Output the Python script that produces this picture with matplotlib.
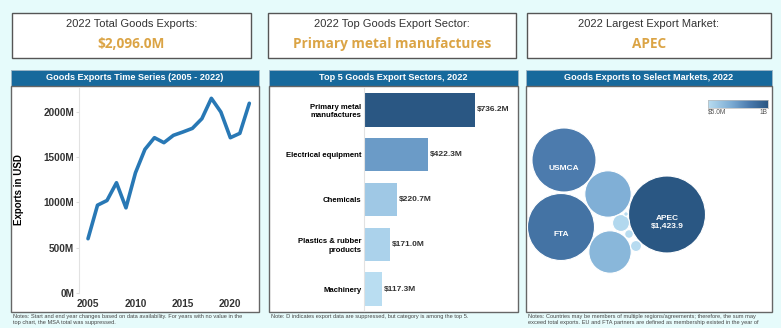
import numpy as np
import matplotlib.pyplot as plt
from matplotlib.patches import Rectangle, Circle
from matplotlib.colors import LinearSegmentedColormap, Normalize

# Goods exports, millions of USD
years = list(range(2005, 2023))
exports = [600, 970, 1022, 1218, 941, 1328, 1587, 1716, 1661, 1742,
           1779, 1819, 1926, 2151, 2000, 1716, 1764, 2096.0]

sectors = ["Primary metal\nmanufactures", "Electrical equipment", "Chemicals",
           "Plastics & rubber\nproducts", "Machinery"]
sector_exports = [736.2, 422.3, 220.7, 171.0, 117.3]

market_labels = ["APEC", "FTA", "USMCA", "", "", "", "", "", ""]
market_exports = [1423.9, 1078, 985, 517, 432, 69, 29, 18, 5.0]

W, H = 781, 328
BG = "#E6FBFB"
HEADER = "#17699C"
GOLD = "#DBA445"
LINE = "#2878B5"
TEXT = "#333333"
blues = LinearSegmentedColormap.from_list(
    "tab_blue", [(0, "#B9DDF1"), (0.4, "#7AAAD3"), (0.7, "#4A79AC"), (1, "#2A5783")])

fig = plt.figure(figsize=(W / 100, H / 100), dpi=100, facecolor=BG)


def px_axes(x0, y0, x1, y1, **kw):
    # axes placed by pixel box (top-left origin)
    return fig.add_axes([x0 / W, (H - y1) / H, (x1 - x0) / W, (y1 - y0) / H], **kw)


# page furniture: boxes, headers, notes
bg = px_axes(0, 0, W, H, zorder=0)
bg.set_xlim(0, W)
bg.set_ylim(H, 0)
bg.axis("off")

panels = [(11, 259), (269, 518), (526, 772)]
kpis = [(12, 251), (268, 516), (527, 771)]
headers = ["Goods Exports Time Series (2005 - 2022)",
           "Top 5 Goods Export Sectors, 2022",
           "Goods Exports to Select Markets, 2022"]

top_i = int(np.argmax(sector_exports))
mkt_i = int(np.argmax(market_exports))
kpi_titles = ["2022 Total Goods Exports:", "2022 Top Goods Export Sector:",
              "2022 Largest Export Market:"]
kpi_values = [f"${exports[-1]:,.1f}M",
              sectors[top_i].replace("\n", " "),
              market_labels[mkt_i]]

notes = [
    "Notes: Start and end year changes based on data availability. For years with no value in the\n"
    "top chart, the MSA total was suppressed.",
    "Note: D indicates export data are suppressed, but category is among the top 5.",
    "Notes: Countries may be members of multiple regions/agreements; therefore, the sum may\n"
    "exceed total exports. EU and FTA partners are defined as membership existed in the year of",
]

for (x0, x1), (k0, k1), head, kt, kv, note in zip(panels, kpis, headers,
                                                  kpi_titles, kpi_values, notes):
    bg.add_patch(Rectangle((k0, 13), k1 - k0, 45, facecolor="white",
                           edgecolor="#555555", lw=1))
    kc = (k0 + k1) / 2
    bg.text(kc, 24, kt, ha="center", va="center", fontsize=8,
            family="Liberation Sans", color=TEXT)
    bg.text(kc, 44, kv, ha="center", va="center", fontsize=9.8,
            family="Open Sans", weight="bold", color=GOLD)
    bg.add_patch(Rectangle((x0, 70), x1 - x0, 16, facecolor=HEADER,
                           edgecolor="#9FB6C6", lw=0.6))
    bg.text((x0 + x1) / 2, 78, head, ha="center", va="center", fontsize=6.6,
            family="Liberation Sans", weight="bold", color="white")
    bg.add_patch(Rectangle((x0, 86), x1 - x0, 226, facecolor="white",
                           edgecolor="#666666", lw=1))
    bg.text(x0 + 2, 314, note, ha="left", va="top", fontsize=4.1,
            family="Liberation Sans", color="#444444", linespacing=1.3)

# time series
ax1 = px_axes(79, 88, 255, 293)
ax1.plot(years, exports, color=LINE, lw=2.6, solid_capstyle="round",
         solid_joinstyle="round")
ax1.set_xlim(2004.05, 2022.6)
ax1.set_ylim(0, 2265)
ax1.set_yticks(range(0, 2001, 500))
ax1.set_yticklabels([f"{v}M" for v in range(0, 2001, 500)])
ax1.set_xticks([2005, 2010, 2015, 2020])
for s in ["top", "right", "bottom"]:
    ax1.spines[s].set_visible(False)
ax1.spines["left"].set_color("#E2E2E2")
ax1.tick_params(axis="y", length=2, color="#DDDDDD", pad=1.5)
ax1.tick_params(axis="x", length=0, pad=4)
for lab in ax1.get_xticklabels() + ax1.get_yticklabels():
    lab.set_fontsize(7.2)
    lab.set_fontweight("bold")
    lab.set_family("Liberation Sans")
    lab.set_color(TEXT)
ax1.set_facecolor("none")
bg.text(19, 190, "Exports in USD", rotation=90, ha="center", va="center",
        fontsize=7, weight="bold", family="Liberation Sans", color="black")

# top sectors
ax2 = px_axes(364, 88, 516, 311)
snorm = Normalize(min(sector_exports), max(sector_exports))
ypos = np.arange(len(sectors))
ax2.barh(ypos, sector_exports, height=0.74,
         color=[blues(snorm(v)) for v in sector_exports])
for y, v in zip(ypos, sector_exports):
    ax2.text(v + 12, y, f"${v:.1f}M", ha="left", va="center", fontsize=6,
             weight="bold", family="Liberation Sans", color=TEXT)
ax2.set_xlim(0, 1008)
ax2.set_ylim(4.49, -0.49)
ax2.set_yticks(ypos)
ax2.set_yticklabels(sectors)
ax2.set_xticks([])
for s in ["top", "right", "bottom"]:
    ax2.spines[s].set_visible(False)
ax2.spines["left"].set_color("#E2E2E2")
ax2.tick_params(axis="y", length=0, pad=2)
for lab in ax2.get_yticklabels():
    lab.set_fontsize(5.6)
    lab.set_fontweight("bold")
    lab.set_family("Liberation Sans")
    lab.set_color("black")
    lab.set_linespacing(1.3)
ax2.set_facecolor("none")

# market bubbles, area proportional to exports
bubble_xy = [(141, 128.5), (35, 141), (38, 74), (82, 108), (84, 166),
             (95, 137), (110, 160), (103, 148), (100, 128)]
ax3 = px_axes(526, 86, 772, 312)
ax3.set_xlim(0, 246)
ax3.set_ylim(226, 0)
ax3.axis("off")
mnorm = Normalize(min(market_exports), max(market_exports))
k = 38.5 / np.sqrt(max(market_exports))
for (cx, cy), v, name in zip(bubble_xy, market_exports, market_labels):
    ax3.add_patch(Circle((cx, cy), k * np.sqrt(v), facecolor=blues(mnorm(v)),
                         edgecolor="white", lw=0.8))
    if name:
        txt = name if v != max(market_exports) else f"{name}\n${v:,.1f}"
        ax3.text(cx, cy + 8, txt, ha="center", va="center", fontsize=6,
                 weight="bold", family="Liberation Sans", color="white",
                 linespacing=1.1)

# colour legend
cax = px_axes(708, 100, 768, 108)
cax.imshow(np.linspace(0, 1, 256)[None, :], cmap=blues, aspect="auto")
cax.set_xticks([])
cax.set_yticks([])
for s in cax.spines.values():
    s.set_color("#BBBBBB")
    s.set_linewidth(0.5)
bg.text(708, 112.5, f"${min(market_exports):.1f}M", ha="left", va="center",
        fontsize=4.8, family="Liberation Sans", color="#555555")
bg.text(768, 112.5, f"{max(market_exports) / 1000:.0f}B", ha="right",
        va="center", fontsize=4.8, family="Liberation Sans", color="#555555")

fig.savefig("out.png", dpi=100, facecolor=BG)
